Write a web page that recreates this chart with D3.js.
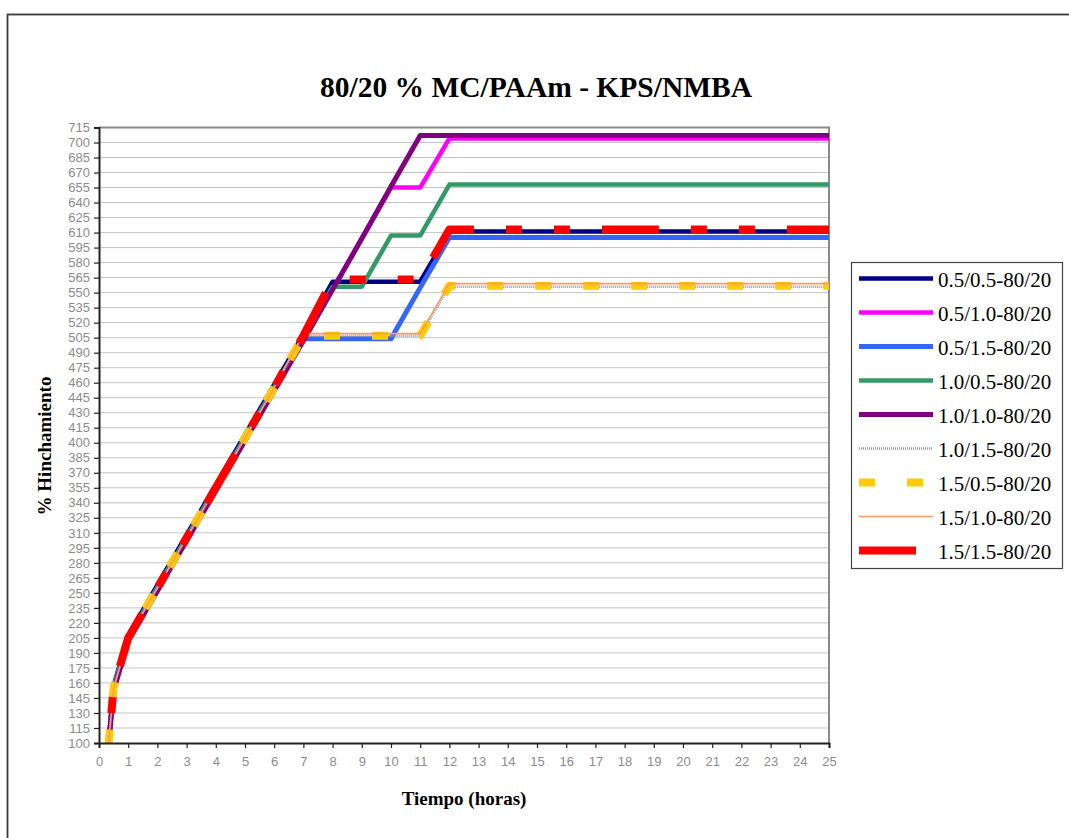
<!DOCTYPE html>
<html>
<head>
<meta charset="utf-8">
<script src="https://cdn.jsdelivr.net/npm/d3@7"></script>
<style>
  html, body { margin: 0; padding: 0; background: #fff; }
  svg { display: block; }
</style>
</head>
<body>
<svg id="chart" width="1069" height="838"></svg>
<script>
// Swelling (%) versus time (hours) for the 80/20 MC/PAAm hydrogels
const hours = [0.33, 0.5, 1, 2, 3, 4, 5, 6, 7, 8, 9, 10, 11, 12, 13, 14, 15, 16, 17, 18, 19, 20, 21, 22, 23, 24, 25];

const s05_05 = [100, 157, 207, 258, 308, 358, 408, 458, 508, 561, 561, 561, 561, 611, 611, 611, 611, 611, 611, 611, 611, 611, 611, 611, 611, 611, 611];
const s05_10 = [100, 153, 203, 253, 303, 353, 403, 453, 503, 553, 604, 655, 655, 704, 704, 704, 704, 704, 704, 704, 704, 704, 704, 704, 704, 704, 704];
const s05_15 = [100, 155, 205, 255, 305, 355, 405, 455, 504, 504, 504, 504, 555, 605, 605, 605, 605, 605, 605, 605, 605, 605, 605, 605, 605, 605, 605];
const s10_05 = [100, 155, 205, 255, 305, 355, 405, 455, 505, 556, 556, 607, 607, 658, 658, 658, 658, 658, 658, 658, 658, 658, 658, 658, 658, 658, 658];
const s10_10 = [100, 152, 202, 252, 302, 352, 402, 452, 502, 553, 604, 656, 707, 707, 707, 707, 707, 707, 707, 707, 707, 707, 707, 707, 707, 707, 707];
const s10_15 = [100, 155, 205, 255, 305, 355, 405, 455, 507, 507, 507, 507, 507, 556, 556, 556, 556, 556, 556, 556, 556, 556, 556, 556, 556, 556, 556];
const s15_05 = [100, 155, 205, 255, 305, 355, 405, 455, 507, 507, 507, 507, 507, 557, 557, 557, 557, 557, 557, 557, 557, 557, 557, 557, 557, 557, 557];
const s15_10 = [100, 155, 205, 255, 305, 355, 405, 455, 509, 509, 509, 509, 509, 559, 559, 559, 559, 559, 559, 559, 559, 559, 559, 559, 559, 559, 559];
const s15_15 = [100, 155, 205, 255, 305, 355, 405, 455, 507, 563, 563, 563, 563, 613, 613, 613, 613, 613, 613, 613, 613, 613, 613, 613, 613, 613, 613];

const seriesNames = ["0.5/0.5-80/20", "0.5/1.0-80/20", "0.5/1.5-80/20", "1.0/0.5-80/20", "1.0/1.0-80/20",
                     "1.0/1.5-80/20", "1.5/0.5-80/20", "1.5/1.0-80/20", "1.5/1.5-80/20"];
const seriesValues = [s05_05, s05_10, s05_15, s10_05, s10_10, s10_15, s15_05, s15_10, s15_15];

const xTicks = d3.range(0, 26, 1);
const yTicks = d3.range(100, 716, 15);

const chartTitle = "80/20 % MC/PAAm - KPS/NMBA";
const xTitle = "Tiempo (horas)";
const yTitle = "% Hinchamiento";

// line styles per series
const styles = [
  { color: "#000080", width: 4.5, dash: null },
  { color: "#FF00FF", width: 4.5, dash: null },
  { color: "#3366FF", width: 5,   dash: null },
  { color: "#339966", width: 4.5, dash: null },
  { color: "#800080", width: 5,   dash: null },
  { color: "#9a9a9a", width: 2.5, dash: "1,1" },
  { color: "#FFCC00", width: 8,   dash: "16,32", offset: 2.6 },
  { color: "#FF9966", width: 1.6, dash: null },
  { color: "#FF0000", width: 8,   dash: "57,32,16,32,16,32", offset: 107 }
];

const svg = d3.select("#chart");

// outer chart frame
svg.append("rect")
  .attr("x", 7.5).attr("y", 14.5)
  .attr("width", 1100).attr("height", 900)
  .attr("fill", "#fff").attr("stroke", "#3a3a3a").attr("stroke-width", 1.8);

const plot = { left: 99, right: 829, top: 127.5, bottom: 743 };
const x = d3.scaleLinear().domain([0, 25]).range([plot.left, plot.right]);
const y = d3.scaleLinear().domain([100, 715]).range([plot.bottom, plot.top]);

// horizontal gridlines
svg.append("g")
  .selectAll("line")
  .data(yTicks.slice(1))
  .join("line")
  .attr("x1", plot.left).attr("x2", plot.right)
  .attr("y1", d => y(d)).attr("y2", d => y(d))
  .attr("stroke", "#c4c4c4").attr("stroke-width", 1);

// plot area border (top and right)
svg.append("path")
  .attr("d", `M${plot.left},${plot.top}H${plot.right}V${plot.bottom}`)
  .attr("fill", "none").attr("stroke", "#8a8a8a").attr("stroke-width", 2);

// series lines
const line = d3.line().x((d, i) => x(hours[i])).y(d => y(d));
const seriesG = svg.append("g");
seriesValues.forEach((vals, k) => {
  const st = styles[k];
  const p = seriesG.append("path")
    .attr("d", line(vals))
    .attr("fill", "none")
    .attr("stroke", st.color)
    .attr("stroke-width", st.width)
    .attr("stroke-linejoin", "round")
    .attr("stroke-linecap", "butt");
  if (st.dash) {
    p.attr("stroke-dasharray", st.dash);
    if (st.offset !== undefined) p.attr("stroke-dashoffset", st.offset);
  }
});

// axes
const yAxis = svg.append("g")
  .attr("transform", `translate(${plot.left},0)`)
  .call(d3.axisLeft(y).tickValues(yTicks).tickSize(5).tickPadding(4).tickFormat(d3.format("d")));
const xAxis = svg.append("g")
  .attr("transform", `translate(0,${plot.bottom})`)
  .call(d3.axisBottom(x).tickValues(xTicks).tickSize(5).tickPadding(9).tickFormat(d3.format("d")));

[yAxis, xAxis].forEach(g => {
  g.select(".domain").attr("stroke", "#222").attr("stroke-width", 2);
  g.selectAll(".tick line").attr("stroke", "#222").attr("stroke-width", 1.2);
  g.selectAll(".tick text")
    .attr("fill", "#8c8c8c")
    .style("font-family", "Arial, 'Liberation Sans', sans-serif")
    .style("font-size", "13px");
});

// titles
svg.append("text")
  .attr("x", 536).attr("y", 97)
  .attr("text-anchor", "middle")
  .style("font-family", "'Times New Roman', 'Liberation Serif', serif")
  .style("font-weight", "bold").style("font-size", "29.5px")
  .text(chartTitle);

svg.append("text")
  .attr("x", 464).attr("y", 805)
  .attr("text-anchor", "middle")
  .style("font-family", "'Times New Roman', 'Liberation Serif', serif")
  .style("font-weight", "bold").style("font-size", "19px")
  .text(xTitle);

svg.append("text")
  .attr("transform", "translate(51,446) rotate(-90)")
  .attr("text-anchor", "middle")
  .style("font-family", "'Times New Roman', 'Liberation Serif', serif")
  .style("font-weight", "bold").style("font-size", "19px")
  .text(yTitle);

// legend
const legend = svg.append("g");
legend.append("rect")
  .attr("x", 851.5).attr("y", 262.5).attr("width", 211).attr("height", 306)
  .attr("fill", "#fff").attr("stroke", "#444").attr("stroke-width", 1.2);

seriesNames.forEach((name, k) => {
  const st = styles[k];
  const ly = 278.5 + k * 34;
  const l = legend.append("line")
    .attr("x1", 859).attr("x2", 933)
    .attr("y1", ly).attr("y2", ly)
    .attr("stroke", st.color)
    .attr("stroke-width", st.width);
  if (st.dash) l.attr("stroke-dasharray", st.dash);
  legend.append("text")
    .attr("x", 938).attr("y", ly + 8)
    .style("font-family", "'Times New Roman', 'Liberation Serif', serif")
    .style("font-size", "21px")
    .attr("fill", "#000")
    .text(name);
});
</script>
</body>
</html>
